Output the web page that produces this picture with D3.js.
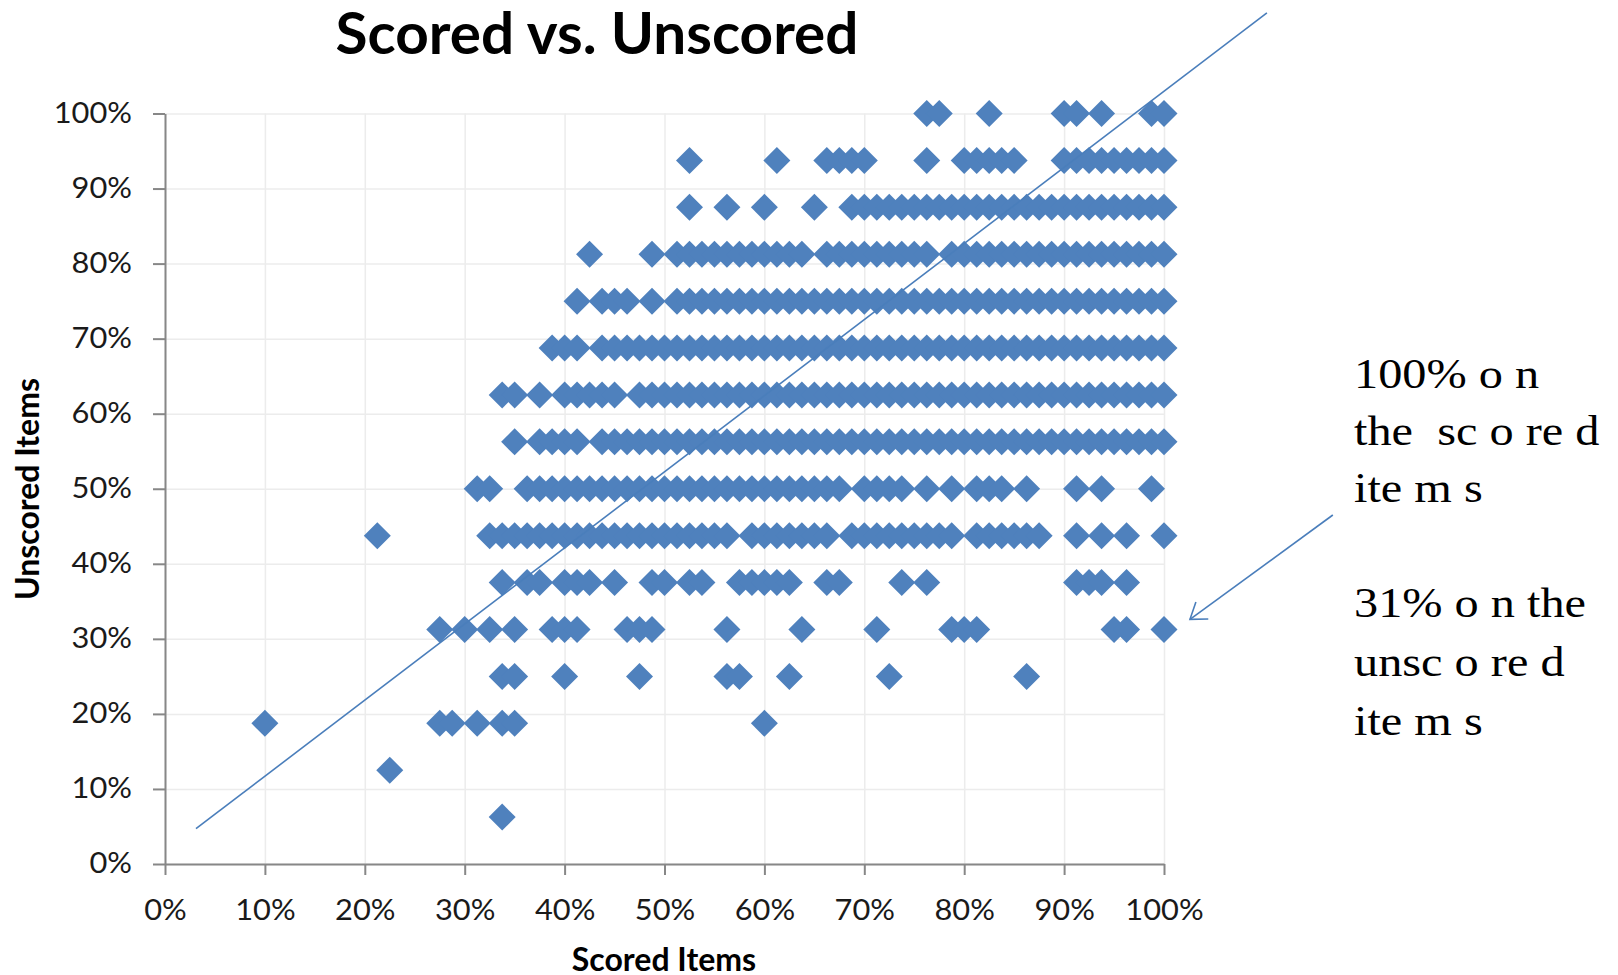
<!DOCTYPE html>
<html lang="en">
<head>
<meta charset="utf-8">
<title>Scored vs. Unscored</title>
<script src="https://cdn.jsdelivr.net/npm/d3@7"></script>
<style>
  body { margin: 0; background: #ffffff; }
  svg { display: block; }
  .grid line { stroke: #ececec; stroke-width: 1.5; }
  .grid path { stroke-width: 0; }
  .axis path, .axis line { stroke: #878787; stroke-width: 2; fill: none; }
  .axis text { font-family: Lato, sans-serif; font-size: 28px; fill: #1a1a1a; }
  .title { font-family: Lato, sans-serif; font-weight: bold; font-size: 57px; fill: #000; }
  .axis-title { font-family: Lato, sans-serif; font-weight: bold; font-size: 32px; fill: #000; }
  .note { font-family: "Liberation Serif", serif; font-size: 42px; fill: #000; white-space: pre; }
</style>
</head>
<body>
<script>
  // scored items correct out of 80, unscored out of 16
  var scoredTotal = 80;
  var unscoredTotal = 16;

  // one list per unscored level: the scored counts seen on that row
  var u16 = [61, 62, 66, 72, 73, 75, 79, 80];
  var u15 = [42, 49, 53, 54, 55, 56, 61, 64, 65, 66, 67, 68, 72, 73, 74, 75, 76, 77, 78, 79, 80];
  var u14 = [42, 45, 48, 52, 55, 56, 57, 58, 59, 60, 61, 62, 63, 64, 65, 66, 67, 68, 69, 70,
             71, 72, 73, 74, 75, 76, 77, 78, 79, 80];
  var u13 = [34, 39, 41, 42, 43, 44, 45, 46, 47, 48, 49, 50, 51, 53, 54, 55, 56, 57, 58, 59,
             60, 61, 63, 64, 65, 66, 67, 68, 69, 70, 71, 72, 73, 74, 75, 76, 77, 78, 79, 80];
  var u12 = [33, 35, 36, 37, 39, 41, 42, 43, 44, 45, 46, 47, 48, 49, 50, 51, 52, 53, 54, 55,
             56, 57, 58, 59, 60, 61, 62, 63, 64, 65, 66, 67, 68, 69, 70, 71, 72, 73, 74, 75,
             76, 77, 78, 79, 80];
  var u11 = [31, 32, 33, 35, 36, 37, 38, 39, 40, 41, 42, 43, 44, 45, 46, 47, 48, 49, 50, 51,
             52, 53, 54, 55, 56, 57, 58, 59, 60, 61, 62, 63, 64, 65, 66, 67, 68, 69, 70, 71,
             72, 73, 74, 75, 76, 77, 78, 79, 80];
  var u10 = [27, 28, 30, 32, 33, 34, 35, 36, 38, 39, 40, 41, 42, 43, 44, 45, 46, 47, 48,
             49, 50, 51, 52, 53, 54, 55, 56, 57, 58, 59, 60, 61, 62, 63, 64, 65, 66, 67, 68,
             69, 70, 71, 72, 73, 74, 75, 76, 77, 78, 79, 80];
  var u9 = [28, 30, 31, 32, 33, 35, 36, 37, 38, 39, 40, 41, 42, 43, 44, 45, 46, 47, 48, 49,
            50, 51, 52, 53, 54, 55, 56, 57, 58, 59, 60, 61, 62, 63, 64, 65, 66, 67, 68, 69,
            70, 71, 72, 73, 74, 75, 76, 77, 78, 79, 80];
  var u8 = [25, 26, 29, 30, 31, 32, 33, 34, 35, 36, 37, 38, 39, 40, 41, 42, 43, 44, 45, 46,
            47, 48, 49, 50, 51, 52, 53, 54, 56, 57, 58, 59, 61, 63, 65, 66, 67, 69, 73, 75, 79];
  var u7 = [17, 26, 27, 28, 29, 30, 31, 32, 33, 34, 35, 36, 37, 38, 39, 40, 41, 42, 43, 44,
            45, 47, 48, 49, 50, 51, 52, 53, 55, 56, 57, 58, 59, 60, 61, 62, 63, 65, 66, 67,
            68, 69, 70, 73, 75, 77, 80];
  var u6 = [27, 29, 30, 32, 33, 34, 36, 39, 40, 42, 43, 46, 47, 48, 49, 50, 53, 54, 59, 61,
            73, 74, 75, 77];
  var u5 = [22, 24, 26, 28, 31, 32, 33, 37, 38, 39, 45, 51, 57, 63, 64, 65, 76, 77, 80];
  var u4 = [27, 28, 32, 38, 45, 46, 50, 58, 69];
  var u3 = [8, 22, 23, 25, 27, 28, 48];
  var u2 = [18];
  var u1 = [27];

  var unscoredLevels = [16, 15, 14, 13, 12, 11, 10, 9, 8, 7, 6, 5, 4, 3, 2, 1];
  var scoredRows = [u16, u15, u14, u13, u12, u11, u10, u9, u8, u7, u6, u5, u4, u3, u2, u1];

  // reference diagonal and arrow, in data units (fractions)
  var diagonal = [[0.031, 0.047], [1.103, 1.134]];
  var arrow = [[1.169, 0.465], [1.026, 0.326]];

  var noteTop = ["100% o n", "the  sc o re d", "ite m s"];
  var noteBottom = ["31% o n the", "unsc o re d", "ite m s"];

  var w = 1618, h = 975;

  var points = [];
  scoredRows.forEach(function(row, i) {
    row.forEach(function(k) {
      points.push([k / scoredTotal, unscoredLevels[i] / unscoredTotal]);
    });
  });

  var xScale = d3.scaleLinear().domain([0, 1]).range([165, 1164]);
  var yScale = d3.scaleLinear().domain([0, 1]).range([864, 113.5]);
  var pct = d3.format(".0%");

  var svg = d3.select("body").append("svg")
    .attr("width", w)
    .attr("height", h);

  // gridlines
  svg.append("g")
    .attr("class", "grid")
    .attr("transform", "translate(0,864)")
    .call(d3.axisBottom(xScale).ticks(10).tickSize(-(864 - 113.5)).tickFormat(""));

  svg.append("g")
    .attr("class", "grid")
    .attr("transform", "translate(165,0)")
    .call(d3.axisLeft(yScale).ticks(10).tickSize(-(1164 - 165)).tickFormat(""));

  // widen tick labels a little, the original font runs wider
  function stretch(sel) {
    sel.selectAll("text").each(function() {
      var len = this.getComputedTextLength();
      d3.select(this)
        .attr("textLength", len * 1.1)
        .attr("lengthAdjust", "spacingAndGlyphs");
    });
  }

  // axes
  svg.append("g")
    .attr("class", "axis")
    .attr("transform", "translate(0,864)")
    .call(d3.axisBottom(xScale).ticks(10).tickSizeInner(11).tickSizeOuter(0).tickPadding(25).tickFormat(pct))
    .call(stretch);

  svg.append("g")
    .attr("class", "axis")
    .attr("transform", "translate(165,0)")
    .call(d3.axisLeft(yScale).ticks(10).tickSizeInner(12).tickSizeOuter(0).tickPadding(21).tickFormat(pct))
    .call(stretch);

  // diamonds
  var r = 13.5;
  svg.append("g")
    .selectAll("path")
    .data(points)
    .enter()
    .append("path")
    .attr("d", "M0," + (-r) + "L" + r + ",0L0," + r + "L" + (-r) + ",0Z")
    .attr("transform", function(d) { return "translate(" + xScale(d[0]) + "," + yScale(d[1]) + ")"; })
    .attr("fill", "#4f81bd");

  var line = d3.line()
    .x(function(d) { return xScale(d[0]); })
    .y(function(d) { return yScale(d[1]); });

  svg.append("path")
    .datum(diagonal)
    .attr("d", line)
    .attr("fill", "none")
    .attr("stroke", "#4a7ebb")
    .attr("stroke-width", 1.6);

  // arrow to the 100% / 31% point
  svg.append("defs").append("marker")
    .attr("id", "head")
    .attr("markerUnits", "userSpaceOnUse")
    .attr("viewBox", "-20 -12 22 24")
    .attr("refX", 0).attr("refY", 0)
    .attr("markerWidth", 22).attr("markerHeight", 24)
    .attr("orient", "auto")
    .append("path")
    .attr("d", "M-15,-10.5L0,0L-15,10.5")
    .attr("fill", "none")
    .attr("stroke", "#4a7ebb")
    .attr("stroke-width", 1.6);

  svg.append("path")
    .datum(arrow)
    .attr("d", line)
    .attr("fill", "none")
    .attr("stroke", "#4a7ebb")
    .attr("stroke-width", 1.6)
    .attr("marker-end", "url(#head)");

  // titles
  svg.append("text")
    .attr("class", "title")
    .attr("x", 597).attr("y", 54)
    .attr("text-anchor", "middle")
    .attr("textLength", 523)
    .attr("lengthAdjust", "spacingAndGlyphs")
    .text("Scored vs. Unscored");

  svg.append("text")
    .attr("class", "axis-title")
    .attr("transform", "translate(39,489) rotate(-90)")
    .attr("text-anchor", "middle")
    .text("Unscored Items");

  svg.append("text")
    .attr("class", "axis-title")
    .attr("x", 664).attr("y", 971)
    .attr("text-anchor", "middle")
    .text("Scored Items");

  // note on the right
  var note = svg.append("g").attr("transform", "translate(1354,0) scale(1.15,1)");
  note.selectAll("text.top")
    .data(noteTop)
    .enter()
    .append("text")
    .attr("class", "note top")
    .attr("x", 0)
    .attr("y", function(d, i) { return 388 + i * 57; })
    .text(function(d) { return d; });
  note.selectAll("text.bottom")
    .data(noteBottom)
    .enter()
    .append("text")
    .attr("class", "note bottom")
    .attr("x", 0)
    .attr("y", function(d, i) { return 617 + i * 59; })
    .text(function(d) { return d; });
</script>
</body>
</html>
